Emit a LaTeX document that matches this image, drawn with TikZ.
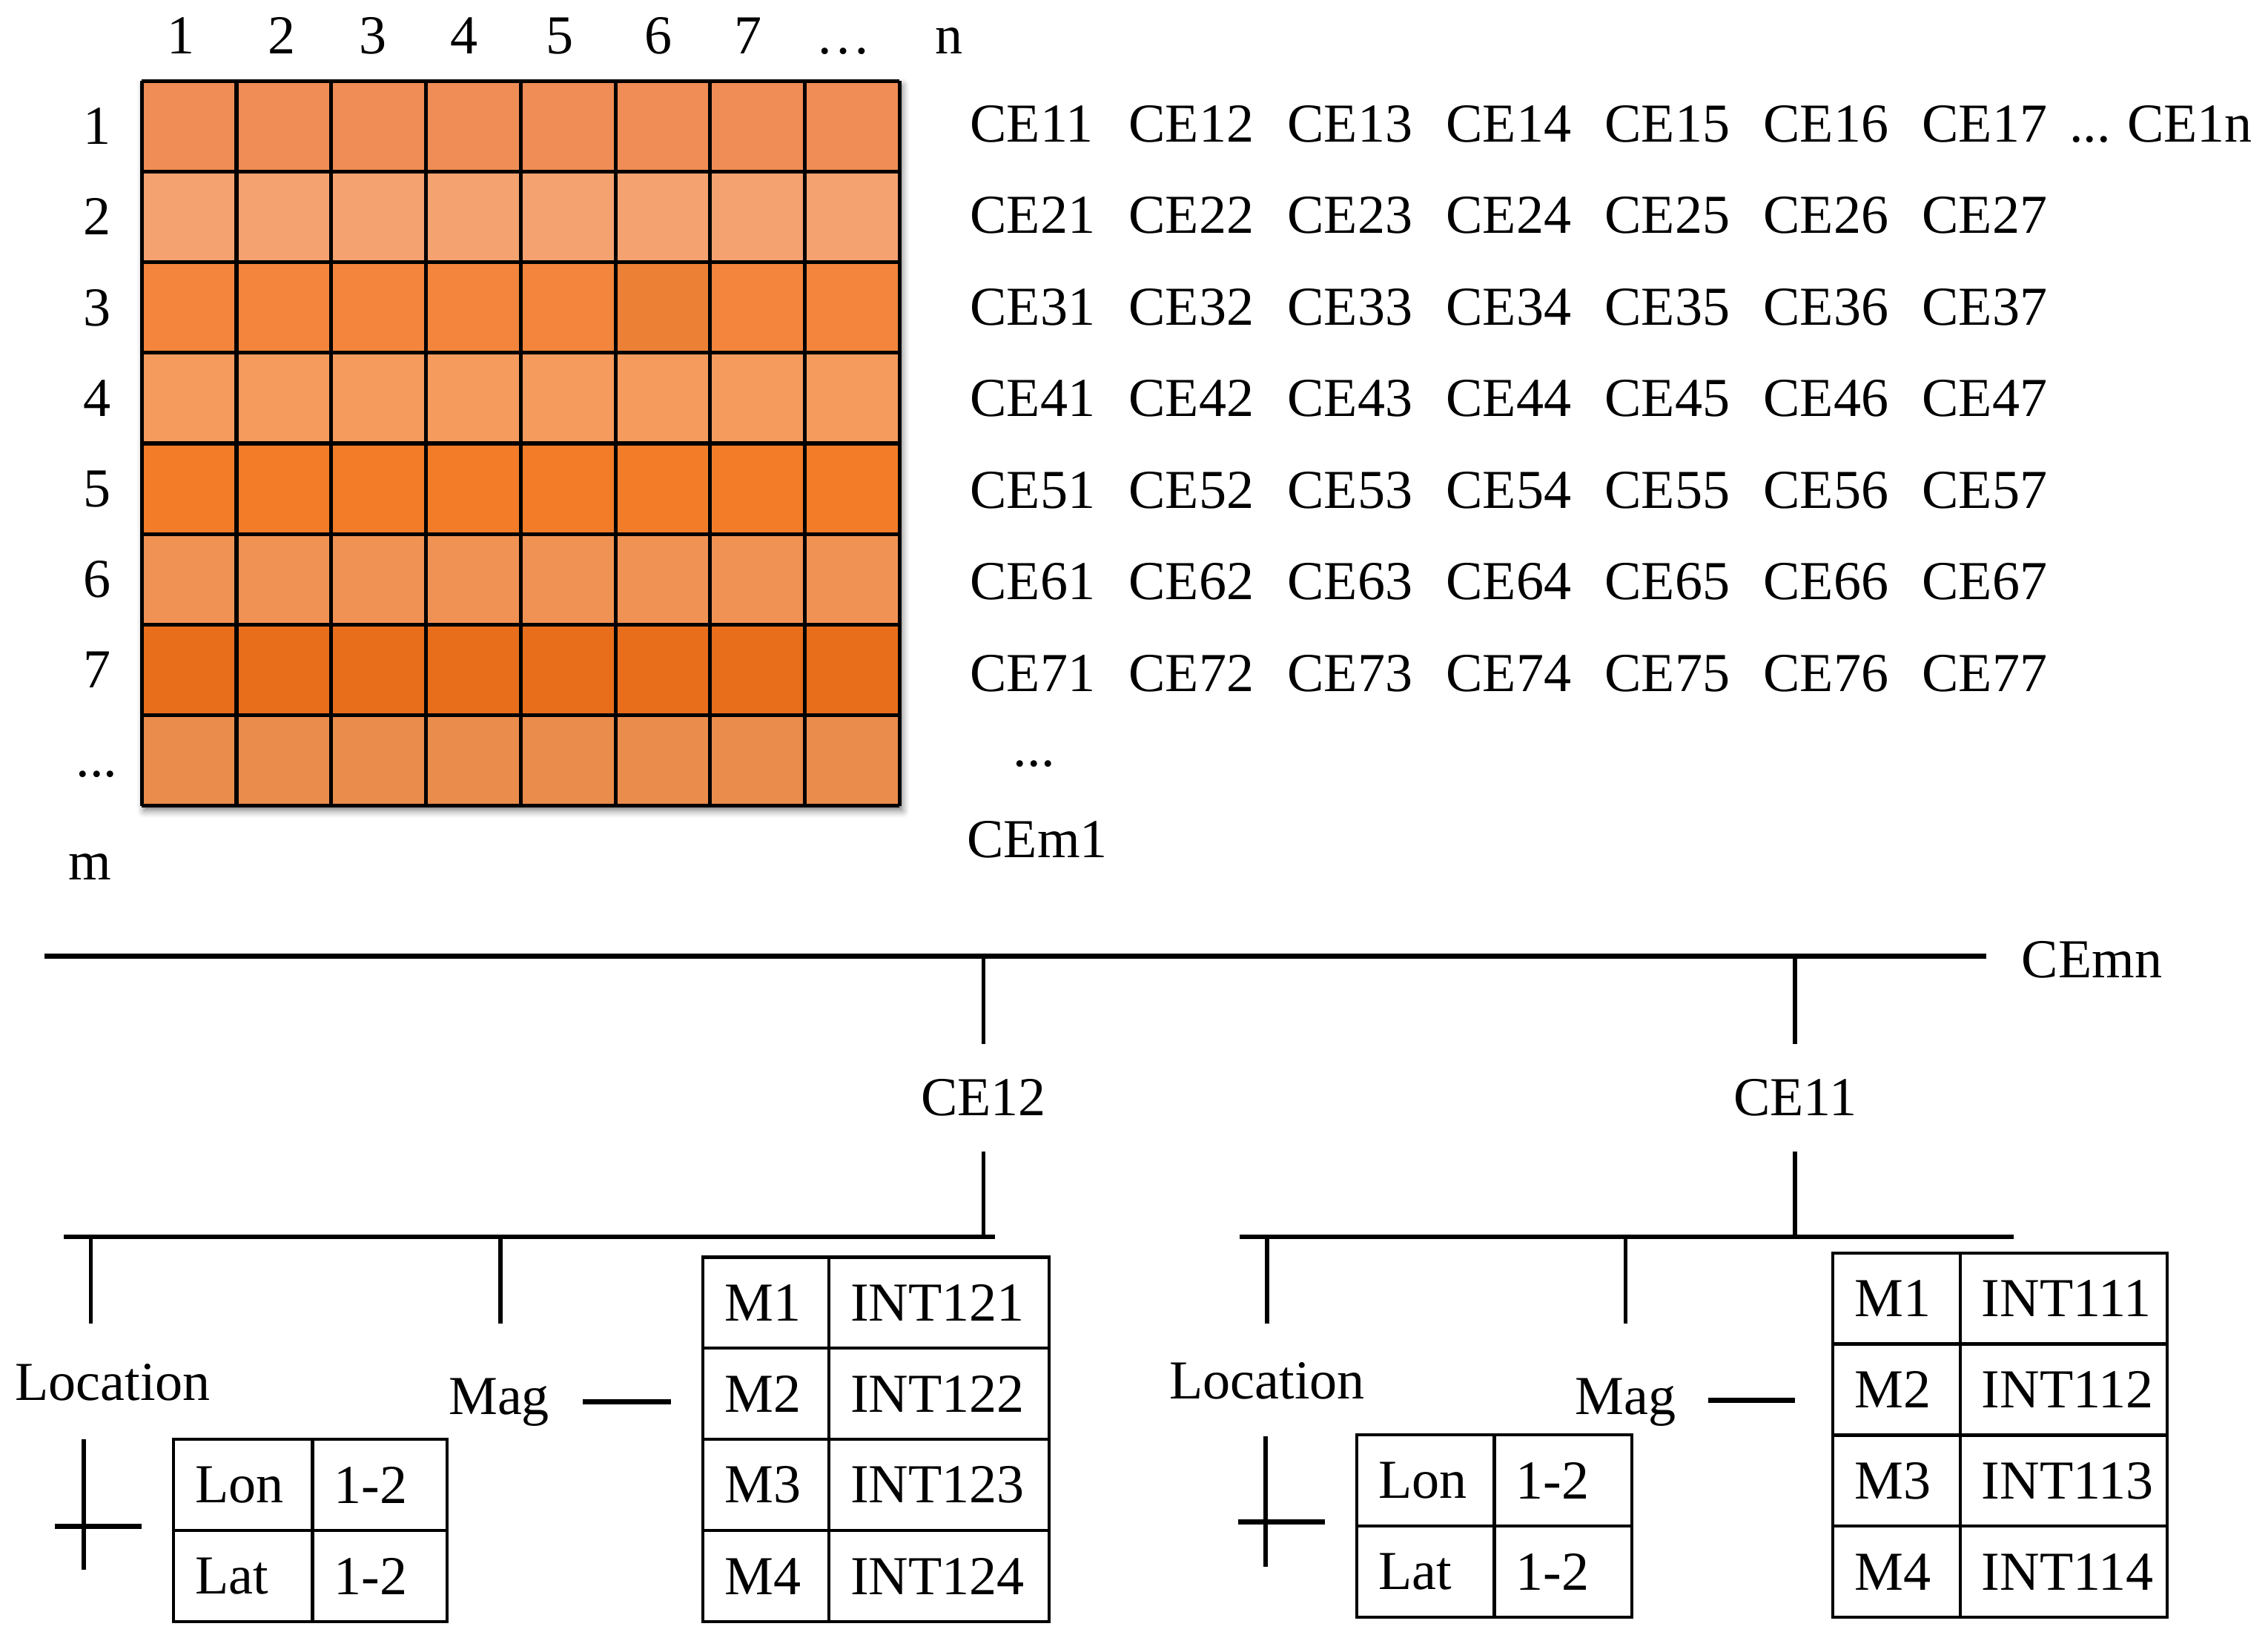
\documentclass[tikz,border=0pt]{standalone}
\usepackage{fontspec}
\setmainfont{Liberation Serif}
\usetikzlibrary{shadows.blur,calc}
\definecolor{rowA}{HTML}{F08C55}
\definecolor{rowB}{HTML}{F4A270}
\definecolor{rowC}{HTML}{F3853C}
\definecolor{rowCx}{HTML}{EC8034}
\definecolor{rowD}{HTML}{F59B5D}
\definecolor{rowE}{HTML}{F27C28}
\definecolor{rowF}{HTML}{F09254}
\definecolor{rowG}{HTML}{E86E1C}
\definecolor{rowH}{HTML}{EA8C4C}
\tikzset{
  gridln/.style={line width=0.75pt, black},
  trunk/.style={line width=1pt, black},
  vline/.style={line width=0.75pt, black},
  crossln/.style={line width=0.8pt, black},
  crossh/.style={line width=1pt, black},
  dashln/.style={line width=1pt, black},
  lbl/.style={anchor=base, inner sep=0pt},
  lblw/.style={anchor=base west, inner sep=0pt},
  head/.style={minimum height=0.73cm, inner ysep=0pt, inner xsep=0pt},
  cellbox/.style={draw, line width=0.6pt, anchor=north west, inner xsep=0.15cm, inner ysep=0pt, align=left},
}
\begin{document}
\begin{tikzpicture}[x=0.01cm, y=-0.01cm, font=\fontsize{10.8pt}{13pt}\selectfont]
\useasboundingbox (0,0) rectangle (1568,1130);
% ---------- grid ----------
\fill[white, blur shadow={shadow xshift=0.5pt, shadow yshift=-0.9pt, shadow blur radius=1.4pt, shadow opacity=55}] (98,56) rectangle (622,557);
\foreach \c [count=\r] in {rowA,rowB,rowC,rowD,rowE,rowF,rowG,rowH} {
  \fill[\c] (98,{56+(\r-1)*62.625}) rectangle (622,{56+\r*62.625});
}
\fill[rowCx] ({98+5*65.5},{56+2*62.625}) rectangle ({98+6*65.5},{56+3*62.625});
\foreach \k in {0,...,8} {
  \draw[gridln] ({98+\k*65.5},56) -- ({98+\k*65.5},557);
  \draw[gridln] (98,{56+\k*62.625}) -- (622,{56+\k*62.625});
}
% column labels
\foreach \x/\t [count=\i] in {125/1,195/2,258/3,321/4,387/5,455/6,517/7,583/…,656/n} {
  \node[lbl] (col\i) at (\x,37) {\t};
}
% row labels
\foreach \t [count=\i] in {1,2,3,4,5,6,7} {
  \node[lbl] (row\i) at (67,{56+(\i-0.5)*62.625+12.5}) {\t};
}
\node[lbl] (row8) at (67,537) {...};
\node[lbl] (rowm) at (62,608) {m};
% ---------- CE labels ----------
\foreach \i in {1,...,7} {
  \foreach \j in {1,...,7} {
    \node[lblw] (ce\i\j) at ({670+109.7*(\j-1)},{98+63.3*(\i-1)}) {CE\i\j};
  }
}
\node[lblw] (cedots) at (1430,98) {...};
\node[lblw] (ce1n) at (1470,98) {CE1n};
\node[lblw] (cevdots) at (700,530) {...};
\node[lblw] (cem1) at (668,593) {CEm1};
% ---------- tree ----------
\coordinate (tL) at (31,661);
\coordinate (tR) at (1373,661);
\draw[trunk] (tL) -- (tR);
\node[lblw] (cemn) at (1397,676) {CEmn};
\node[head] (ce12n) at (680,759) {CE12};
\node[head] (ce11n) at (1241,759) {CE11};
\draw[vline] (ce12n.north |- tL) -- (ce12n.north);
\draw[vline] (ce11n.north |- tL) -- (ce11n.north);
% left subtree
\coordinate (sLa) at (44,855);
\coordinate (sLb) at (688,855);
\draw[trunk] (sLa) -- (sLb);
\draw[vline] (ce12n.south) -- (ce12n.south |- sLa);
\coordinate (kLa) at (63,915);
\coordinate (kLb) at (346,915);
\draw[vline] (kLa |- sLa) -- (kLa);
\draw[vline] (kLb |- sLa) -- (kLb);
\node[lbl] (locL) at (78,968) {Location};
\node[lbl] (magL) at (345,978) {Mag};
% right subtree
\coordinate (sRa) at (857,855);
\coordinate (sRb) at (1392,855);
\draw[trunk] (sRa) -- (sRb);
\draw[vline] (ce11n.south) -- (ce11n.south |- sRa);
\coordinate (kRa) at (876,915);
\coordinate (kRb) at (1124,915);
\draw[vline] (kRa |- sRa) -- (kRa);
\draw[vline] (kRb |- sRa) -- (kRb);
\node[lbl] (locR) at (876,967) {Location};
\node[lbl] (magR) at (1124,978) {Mag};
% ---------- left tables ----------
\foreach \a/\b [count=\i] in {M1/INT121,M2/INT122,M3/INT123,M4/INT124} {
  \node[cellbox, text width=0.57cm, minimum height=0.63cm] (mL\i) at (485,{868+63*(\i-1)}) {\a};
  \node[cellbox, text width=1.22cm, minimum height=0.63cm] (iL\i) at (572,{868+63*(\i-1)}) {\b};
}
\foreach \a/\b [count=\i] in {Lon/1-2,Lat/1-2} {
  \node[cellbox, text width=0.66cm, minimum height=0.63cm] (gL\i) at (119,{994+63*(\i-1)}) {\a};
  \node[cellbox, text width=0.63cm, minimum height=0.63cm] (vL\i) at (215,{994+63*(\i-1)}) {\b};
}
\draw[dashln] (403,969) coordinate (dLa) -- (464,969) coordinate (dLb);
\coordinate (xLt) at (58,995);
\coordinate (xLb) at (58,1085);
\coordinate (xLl) at (38,1055);
\coordinate (xLr) at (98,1055);
\draw[crossln] (xLt) -- (xLb);
\draw[crossh] (xLl) -- (xLr);
% ---------- right tables ----------
\foreach \a/\b [count=\i] in {M1/INT111,M2/INT112,M3/INT113,M4/INT114} {
  \node[cellbox, text width=0.58cm, minimum height=0.63cm] (mR\i) at (1266,{865+63*(\i-1)}) {\a};
  \node[cellbox, text width=1.13cm, minimum height=0.63cm] (iR\i) at (1354,{865+63*(\i-1)}) {\b};
}
\foreach \a/\b [count=\i] in {Lon/1-2,Lat/1-2} {
  \node[cellbox, text width=0.65cm, minimum height=0.63cm] (gR\i) at (937,{991+63*(\i-1)}) {\a};
  \node[cellbox, text width=0.65cm, minimum height=0.63cm] (vR\i) at (1032,{991+63*(\i-1)}) {\b};
}
\draw[dashln] (1181,968) coordinate (dRa) -- (1241,968) coordinate (dRb);
\coordinate (xRt) at (875,993);
\coordinate (xRb) at (875,1083);
\coordinate (xRl) at (856,1052);
\coordinate (xRr) at (916,1052);
\draw[crossln] (xRt) -- (xRb);
\draw[crossh] (xRl) -- (xRr);
\end{tikzpicture}
\end{document}
